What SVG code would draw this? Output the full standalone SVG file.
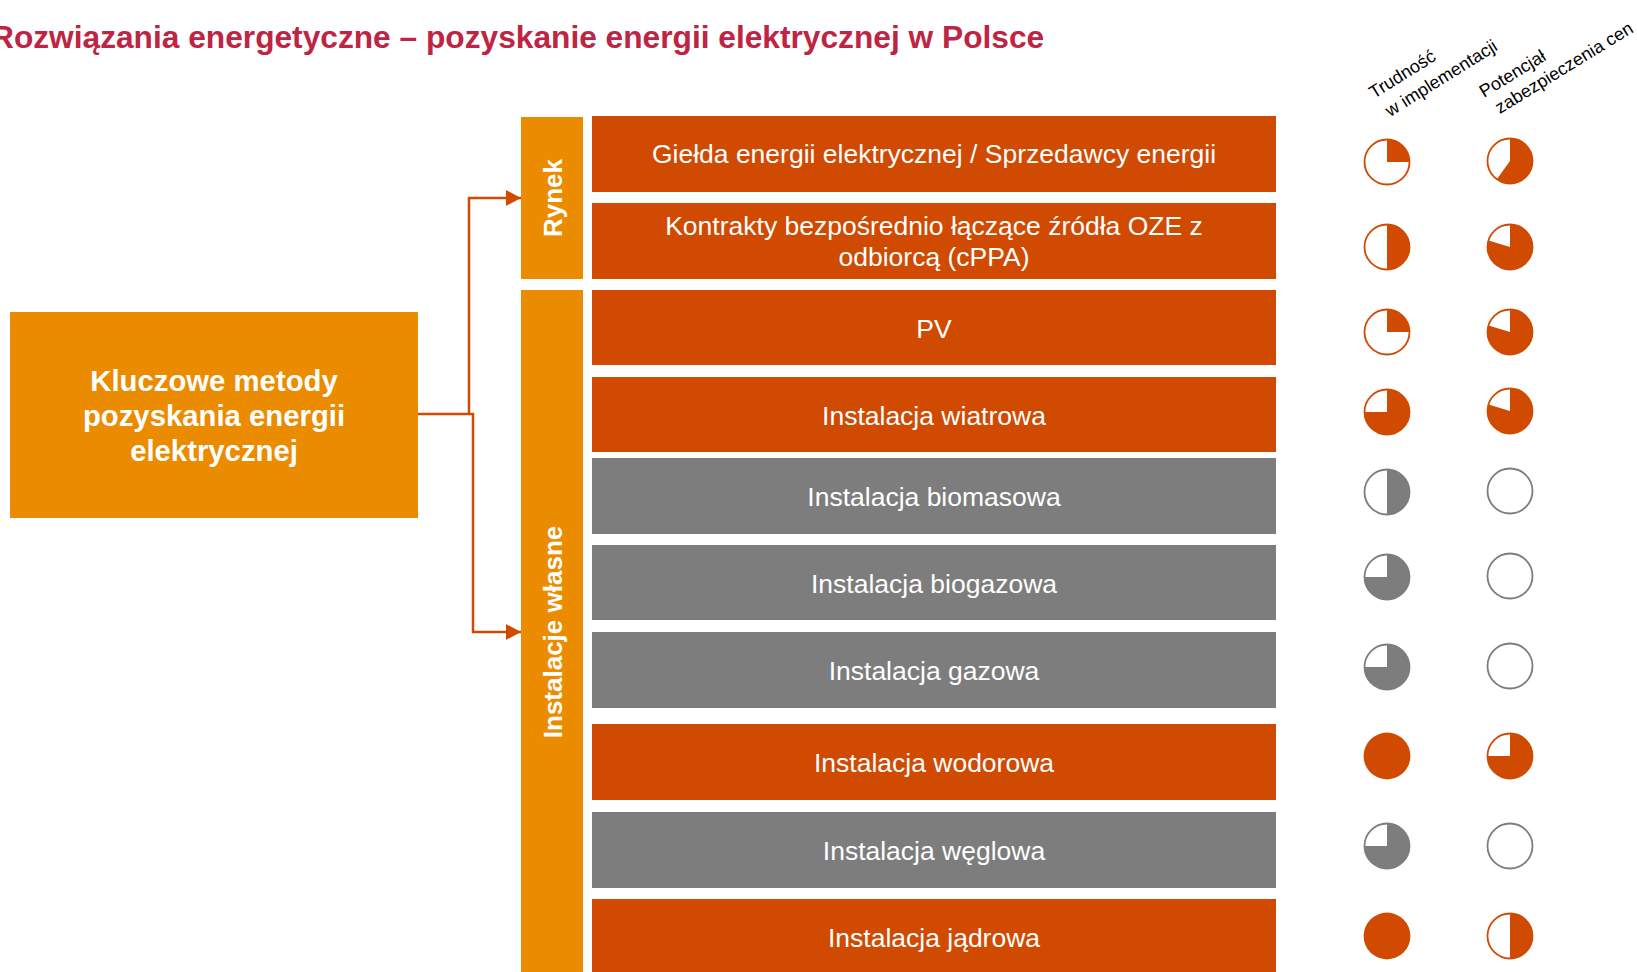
<svg xmlns="http://www.w3.org/2000/svg" width="1637" height="972" viewBox="0 0 1637 972">
<defs>
<style>
.t{font-family:"Liberation Sans",Arial,sans-serif}
.row{font-family:"Liberation Sans",Arial,sans-serif;font-size:26.5px;fill:#fff;text-anchor:middle}
.band{font-family:"Liberation Sans",Arial,sans-serif;font-size:26px;font-weight:bold;fill:#fff;text-anchor:middle}
.hdr{font-family:"Liberation Sans",Arial,sans-serif;font-size:18px;fill:#000}
.o{fill:#D04A02}
.g{fill:#7D7D7D}
.y{fill:#EB8C00}
.po{fill:#fff;stroke:#D04A02;stroke-width:1.8}
.pg{fill:#fff;stroke:#7D7D7D;stroke-width:1.8}
.conn{fill:none;stroke:#D04A02;stroke-width:2.5}
</style>
<marker id="arr" markerWidth="16" markerHeight="16" refX="15" refY="8" orient="auto" markerUnits="userSpaceOnUse">
<path d="M0,0 L15,8 L0,16 Z" fill="#D04A02"/>
</marker>
<path id="q1" d="M0,0 V-22.5 A22.5,22.5 0 0 1 22.5,0 Z"/>
<path id="q2" d="M0,0 V-22.5 A22.5,22.5 0 0 1 0,22.5 Z"/>
<path id="q3" d="M0,0 V-22.5 A22.5,22.5 0 1 1 -22.5,0 Z"/>
<path id="p60" d="M0,0 V-22.5 A22.5,22.5 0 1 1 -13.2,18.2 Z"/>
<path id="p80" d="M0,0 V-22.5 A22.5,22.5 0 1 1 -21.5,-6.6 Z"/>
</defs>
<rect width="1637" height="972" fill="#fff"/>

<text id="title" class="t" x="-9" y="48" font-size="31.7" font-weight="bold" fill="#BE2443">Rozwiązania energetyczne – pozyskanie energii elektrycznej w Polsce</text>

<g id="headers">
<text class="hdr" transform="translate(1374,99) rotate(-32)"><tspan x="0" y="0">Trudność</tspan><tspan x="4" y="24">w implementacji</tspan></text>
<text class="hdr" transform="translate(1484,98) rotate(-31.5)"><tspan x="0" y="0">Potencjał</tspan><tspan x="5" y="22">zabezpieczenia cen</tspan></text>
</g>

<g id="main">
<rect class="y" x="10" y="312" width="408" height="206"/>
<text class="t" font-size="29.3" font-weight="bold" fill="#fff" text-anchor="middle"><tspan x="214" y="391">Kluczowe metody</tspan><tspan x="214" y="426">pozyskania energii</tspan><tspan x="214" y="461">elektrycznej</tspan></text>
</g>

<g id="connectors">
<path class="conn" d="M418,414 H473 V632 H521" marker-end="url(#arr)"/>
<path class="conn" d="M469,414 V198 H521" marker-end="url(#arr)"/>
</g>

<g id="band-rynek">
<rect class="y" x="521" y="117" width="62" height="162"/>
<text class="band" transform="translate(562,198) rotate(-90)">Rynek</text>
</g>
<g id="band-wlasne">
<rect class="y" x="521" y="290" width="62" height="682"/>
<text class="band" transform="translate(562,632) rotate(-90)">Instalacje własne</text>
</g>

<g id="row-gielda"><rect class="o" x="592" y="116" width="684" height="76"/><text class="row" x="934" y="163">Giełda energii elektrycznej / Sprzedawcy energii</text></g>
<g id="row-cppa"><rect class="o" x="592" y="203" width="684" height="76"/><text class="row"><tspan x="934" y="235">Kontrakty bezpośrednio łączące źródła OZE z</tspan><tspan x="934" y="266">odbiorcą (cPPA)</tspan></text></g>
<g id="row-pv"><rect class="o" x="592" y="290" width="684" height="75"/><text class="row" x="934" y="338">PV</text></g>
<g id="row-wiatr"><rect class="o" x="592" y="377" width="684" height="75"/><text class="row" x="934" y="425">Instalacja wiatrowa</text></g>
<g id="row-biomasa"><rect class="g" x="592" y="458" width="684" height="76"/><text class="row" x="934" y="506">Instalacja biomasowa</text></g>
<g id="row-biogaz"><rect class="g" x="592" y="545" width="684" height="75"/><text class="row" x="934" y="593">Instalacja biogazowa</text></g>
<g id="row-gaz"><rect class="g" x="592" y="632" width="684" height="76"/><text class="row" x="934" y="680">Instalacja gazowa</text></g>
<g id="row-wodor"><rect class="o" x="592" y="724" width="684" height="76"/><text class="row" x="934" y="772">Instalacja wodorowa</text></g>
<g id="row-wegiel"><rect class="g" x="592" y="812" width="684" height="76"/><text class="row" x="934" y="860">Instalacja węglowa</text></g>
<g id="row-jadro"><rect class="o" x="592" y="899" width="684" height="80"/><text class="row" x="934" y="947">Instalacja jądrowa</text></g>

<g id="pies-trudnosc">
<g transform="translate(1387,162)"><circle class="po" r="22.5"/><use href="#q1" class="o"/></g>
<g transform="translate(1387,247)"><circle class="po" r="22.5"/><use href="#q2" class="o"/></g>
<g transform="translate(1387,332)"><circle class="po" r="22.5"/><use href="#q1" class="o"/></g>
<g transform="translate(1387,412)"><circle class="po" r="22.5"/><use href="#q3" class="o"/></g>
<g transform="translate(1387,492)"><circle class="pg" r="22.5"/><use href="#q2" class="g"/></g>
<g transform="translate(1387,577)"><circle class="pg" r="22.5"/><use href="#q3" class="g"/></g>
<g transform="translate(1387,667)"><circle class="pg" r="22.5"/><use href="#q3" class="g"/></g>
<g transform="translate(1387,756)"><circle class="o" r="23.4"/></g>
<g transform="translate(1387,846)"><circle class="pg" r="22.5"/><use href="#q3" class="g"/></g>
<g transform="translate(1387,936)"><circle class="o" r="23.4"/></g>
</g>

<g id="pies-potencjal">
<g transform="translate(1510,161)"><circle class="po" r="22.5"/><use href="#p60" class="o"/></g>
<g transform="translate(1510,247)"><circle class="po" r="22.5"/><use href="#p80" class="o"/></g>
<g transform="translate(1510,332)"><circle class="po" r="22.5"/><use href="#p80" class="o"/></g>
<g transform="translate(1510,411)"><circle class="po" r="22.5"/><use href="#p80" class="o"/></g>
<g transform="translate(1510,491)"><circle class="pg" r="22.5"/></g>
<g transform="translate(1510,576)"><circle class="pg" r="22.5"/></g>
<g transform="translate(1510,666)"><circle class="pg" r="22.5"/></g>
<g transform="translate(1510,756)"><circle class="po" r="22.5"/><use href="#q3" class="o"/></g>
<g transform="translate(1510,846)"><circle class="pg" r="22.5"/></g>
<g transform="translate(1510,936)"><circle class="po" r="22.5"/><use href="#q2" class="o"/></g>
</g>
</svg>
